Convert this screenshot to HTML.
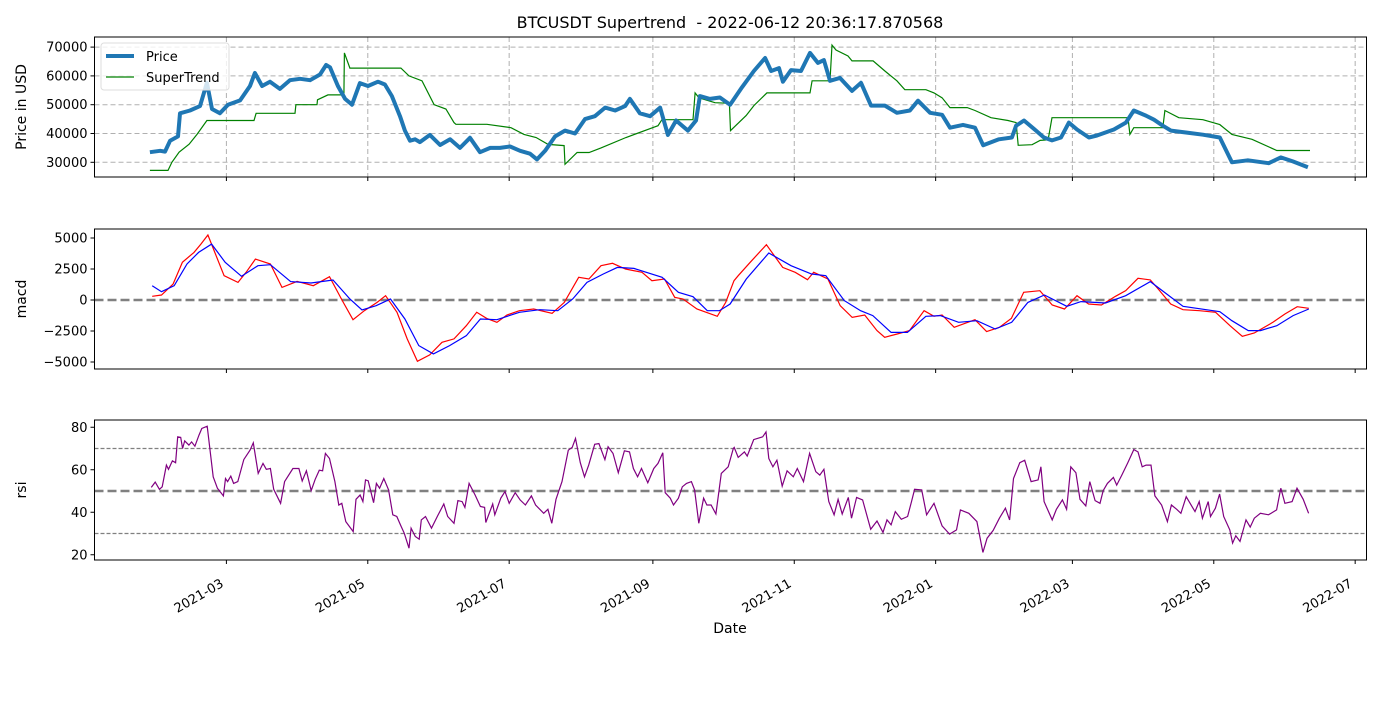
<!DOCTYPE html>
<html><head><meta charset="utf-8"><style>
body{margin:0;background:#fff}
svg text{font-family:"DejaVu Sans","Liberation Sans",sans-serif;fill:#000}
</style></head><body>
<svg id="chart" width="1400" height="700" viewBox="0 0 1400 700" xmlns="http://www.w3.org/2000/svg">
<rect width="1400" height="700" fill="#fff"/>
<text x="730" y="28" text-anchor="middle" font-size="16">BTCUSDT Supertrend &#160;- 2022-06-12 20:36:17.870568</text>
<g id="g-price"></g>
<g id="g-macd"></g>
<g id="g-rsi"></g>
<g id="g-x"></g>
<text x="730" y="633" text-anchor="middle" font-size="14">Date</text>
</svg>
<script>
// x tick data (days since 2021-03-01)
const xTickDays = [0, 61, 122, 184, 245, 306, 365, 426, 487];
const xTickLabels = ["2021-03","2021-05","2021-07","2021-09","2021-11","2022-01","2022-03","2022-05","2022-07"];
// price
const priceDays = [-33,-28.6,-26.5,-24.3,-20.9,-20,-15.7,-11.4,-9.2,-8.4,-6.2,-2.8,0.7,5.9,10.2,12.3,15.4,18.8,23.1,27.4,31.8,36.1,40.4,43,44.7,48.1,51.2,54.2,57.6,61.1,65.4,68.4,71.4,74.9,77,79.2,81.4,83.5,87.8,92.2,96.5,100.8,105.1,109.4,113.8,118,122.4,126.7,131,134,137.5,141.8,146.1,150.4,154.7,159,163.4,167.7,172,174.1,178.4,182.8,187.1,190.5,194,199.1,202.6,204.3,208.6,212.9,217.3,222.4,227.6,232.4,235,238.4,240.1,243.6,247.9,251.8,255.2,257.8,260.4,264.7,269.9,273.8,278.1,284.1,289.3,294.9,298.4,303.6,308.8,312.2,317.8,323,326.5,333.3,338.9,340.7,344.1,349.3,352.7,356.2,360.1,363.5,367,372.1,375.6,382.9,388.1,391.5,396.7,400.2,404,407.5,414.4,421.3,428.6,433.8,440.7,449.7,454.9,460.1,466.6];
const priceValues = [33500,34000,33700,37500,39000,47000,48000,49500,55500,57600,48500,47000,50000,51500,56500,61000,56500,58000,55500,58500,59000,58500,60500,63800,63000,56500,52000,50000,57500,56500,58000,57000,53000,46000,41000,37500,38000,37000,39500,36000,38000,35000,38500,33500,35000,35000,35500,34000,33000,31000,34000,39000,41000,40000,45000,46000,49000,48000,49500,52000,47000,46000,49000,39500,44500,41000,44500,53000,52000,52500,50000,56000,61700,66200,61700,62700,58000,62000,61700,68000,64500,65500,58300,59300,54800,57600,49700,49700,47200,48000,51400,47200,46500,42000,43000,42000,35900,38000,38600,42700,44500,41000,38600,37600,38600,43800,41400,38600,39300,41400,43800,48000,46200,44800,42700,41000,40300,39600,38600,30000,30700,29700,31700,30300,28300];
// supertrend
const stDays = [-33,-25.2,-23.5,-20.4,-16.1,-12.7,-8.4,11.9,12.8,29.6,30,39.1,39.3,43.8,50.7,50.9,53.3,75.3,78.8,84.4,89.6,94.7,98.2,99,112.4,122.8,128.4,133.6,138.8,145.7,146.1,151.3,156.5,161.6,172.4,186.2,187.9,201.3,202.2,203.9,210.8,217,217.5,224.2,227.6,233.2,251.8,252.7,260.4,261.3,263,268.2,269.9,279,284.1,289.3,292.7,301.8,305.3,308.8,312.2,319.6,323,329.9,337.2,340.7,341.6,347.6,351.1,354.5,356.2,389,389.8,391.5,404,404.9,410.9,421.3,428.6,433.8,442.5,453.2,467.5];
const stValues = [27200,27200,30000,33500,36300,39700,44500,44500,47000,47000,50000,50000,51700,53400,53400,68000,62700,62700,60000,58300,50000,48500,43800,43200,43200,42000,39700,38600,36200,35800,29300,33400,33400,35000,38600,42700,44800,44800,54100,52400,50700,50500,41000,46200,49700,54100,54100,58300,58300,70700,69000,66900,65200,65200,61700,58300,55200,55200,54100,52400,49000,49000,48000,45500,44500,43800,35900,36100,37600,37800,45500,45500,39700,42000,42000,48000,45500,44800,43100,39700,38000,34100,34100];
// macd
const macdDays = [-32,-28,-23,-19,-14,-11,-8,-5,-1,5,8.5,12.5,19,24,30.5,37.5,44.5,50,54.6,59.5,65,68.7,73.6,78,82.4,87.7,93,98.2,103.5,108,112.3,116.7,121,126.4,132.6,140.5,145.8,152,156.4,161.6,166.6,172.2,179.3,183.6,189,193.4,197,203,211.8,215.4,219,220.8,226,233,240,245.4,250.7,253.4,259.5,264.8,270,275.4,280.7,284,289.4,294.7,301,305.3,308.8,314,323,328,333.5,338.7,344,351,356.3,361.6,367,372,377.5,383.6,388,393.3,398.6,402,407.4,412.7,419.8,426.8,433,438.3,443.5,451.5,456.7,462,467];
const macdValues = [300,400,1290,3040,3840,4510,5240,3840,1960,1420,2230,3300,2900,1020,1500,1150,1880,-50,-1590,-860,-190,350,-990,-3140,-4940,-4430,-3410,-3140,-2070,-990,-1480,-1800,-1210,-860,-725,-1075,-190,1830,1690,2770,2960,2500,2230,1560,1690,215,80,-725,-1315,-190,1560,1960,3040,4460,2630,2230,1640,2230,1690,-460,-1400,-1210,-2470,-3010,-2740,-2470,-860,-1315,-1210,-2200,-1590,-2550,-2200,-1480,620,750,-400,-725,350,-320,-400,300,750,1750,1620,890,-320,-780,-860,-990,-2070,-2930,-2660,-1800,-1130,-540,-670];
const signalDays = [-32,-28,-22.5,-17,-12,-6.4,-0.5,6.5,13.6,19,27.7,36.5,46,53.3,58.5,64.6,70.8,77,83,89.3,96.3,103.5,109.6,116.7,126.4,135.2,143,149.4,155.6,162.6,168.7,175.8,188,195,201.3,207.5,212.7,217.3,224.3,234,243.6,252.5,258.6,266.6,273.6,278.9,286.8,293.8,301.8,308,315.9,323.8,331.7,338.8,345.8,352.9,362.6,368.7,379.3,388,398.6,405.7,412.7,428.6,433.8,440.9,446.1,453.2,460.2,467];
const signalValues = [1150,670,1150,2900,3840,4510,3040,1910,2770,2850,1480,1370,1610,80,-806,-460,80,-1530,-3680,-4350,-3680,-2880,-1530,-1590,-990,-780,-860,80,1420,2100,2630,2550,1830,620,270,-860,-860,-320,1690,3790,2770,2100,1960,-50,-860,-1260,-2610,-2610,-1315,-1260,-1800,-1670,-2340,-1800,-190,400,-510,-130,-240,350,1480,480,-510,-940,-1670,-2470,-2470,-2070,-1260,-725];
// rsi
const rsiDays = [-32.4,-30.7,-28.9,-27.7,-25.9,-25,-23.3,-21.9,-21,-19.7,-18.9,-18,-16.2,-15,-13.6,-11.8,-10.6,-8.3,-5.7,-3.9,-1.3,-0.4,0.5,1.9,3.1,4.9,7.5,10.2,11.6,13.7,15.8,17.2,19,20.4,23.4,25.1,28.7,31.3,32.7,34.5,36.6,38.3,40.1,41.5,42.7,44.5,46.8,48.5,49.8,51.5,54.7,55.9,57.7,58.9,60,61.2,63.5,64.7,66.1,67.9,70,71.8,73.5,75.3,76.7,78.8,79.7,81.5,83.2,84.1,85.9,88.5,91.1,93.8,95.5,98.2,99.9,101.7,102.9,104.7,107.3,109.6,111.4,111.9,114.9,115.8,118.4,120.2,122,124.6,126.7,129,131.6,133.4,136.9,138.7,140.4,142.2,144.8,147.5,149.2,150.6,152.7,154.5,156.3,158.9,160.7,163.3,164.7,166.8,169.1,171.7,173.9,175.6,177.4,179.1,181.8,184.4,186.2,188.3,189.3,191.5,192.9,195,196.7,198.5,200.6,202,203.8,205.9,207.3,209.1,211.2,213.5,216.5,218.7,219.1,220.8,223.5,224.7,227.5,231.4,232.8,234,235.8,237.5,239.8,241.9,244.6,246.3,249,251.6,254.3,256,257.8,259.9,262.2,263.9,265.7,268.3,269.7,271.9,274.5,278,280.7,283.3,285,286.8,288.6,291.2,293.9,295.6,296.9,300,302.1,305.3,308.8,312,315,316.7,320.3,323.8,326.4,328.2,330.8,333.5,336.1,337.9,339.6,342.3,344.4,347.2,350.2,351.4,352.8,356.3,358.1,360.7,362.5,364.3,366.5,368.3,370.8,372.5,374.8,376.9,378.3,380.1,382.7,384.1,386.3,388.9,391.5,393.3,395.1,396.8,398.9,400.6,403.5,406,407.7,410,411.8,414.1,417.9,419.7,421.1,423.6,424.6,426.7,428.5,430.3,432.9,434.1,435.5,437.3,439.9,441.7,443.5,446.1,449.6,453.1,454.9,456.7,459.8,461.9,464.6,466.9];
const rsiValues = [51.7,54.2,50.8,52,62.2,60.2,64.2,63.3,75.5,75.2,70,73.6,71.6,73.1,71.1,76.3,79.4,80.5,56.7,51.3,47.7,55.9,54.4,57,53.6,54.4,64.8,69.2,72.7,58.3,63,60.2,60.6,50.8,44.2,54.4,60.6,60.6,54.7,59.5,50.2,55.5,59.8,59.5,67.7,65.3,54.4,43.4,44.2,35.6,30.9,46.1,48.1,45,55.2,54.8,44.5,53.6,51.3,55.9,50.5,38.8,38,33.6,30.2,23.1,32.5,28.6,27.3,36.4,38,32.5,38.3,43.9,38,34.8,45.5,45,42.3,53.6,48.1,42.7,42.3,35.2,43.9,38.8,46.6,49.7,44.2,49.2,45.8,43.4,47.7,43.4,39.5,41.4,34.8,46.1,54.4,69.2,70.5,74.7,63.3,56.7,62.2,72,72.3,64.8,70.8,67.7,58.6,68.9,68.4,60.6,56.7,60.6,53.9,60.6,63,68,49.2,46.6,43.4,46.6,52,53.6,54.4,50.5,34.8,46.6,43.4,43.4,39.2,58.3,61.4,70,70.5,65.8,68.4,66.4,74.2,75.5,77.8,65.3,61.4,64.5,52.3,59.5,56.7,60.6,54.4,67.7,59.1,57.5,60.2,45,38.8,46.1,39.2,47,37.2,47,45.8,32,35.9,30.5,36.4,34.1,40.3,36.7,38,45,50.8,50.5,38.8,44.2,33.6,29.7,31.7,41.1,39.5,35.6,21.1,27.8,31.4,37.2,41.9,36.4,55.9,63.3,64.5,54.4,55.2,61.4,45,36.4,41.4,45.8,41.4,61.4,58.6,46.1,43,54.4,45.5,44.2,50.2,53.6,56.4,52.8,57.5,63.3,69.5,68.4,61.4,62.2,62.2,47.7,43.4,35.6,43.4,41.4,39.5,47.3,40.3,45,37.2,45,38,41.9,48.6,38,31.7,25.5,28.9,26.3,36.4,33,37.2,39.5,38.8,41.1,51.3,44.2,45,51.3,46.1,39.5];
const priceTicks = [30000,40000,50000,60000,70000];
const macdTicks = [-5000,-2500,0,2500,5000];
const rsiTicks = [20,40,60,80];

const NS = "http://www.w3.org/2000/svg";
const X0 = 94.5, X1 = 1366.5;
const xs = d => 226.4 + d * 2.3178;
const yPrice = v => 162.3 - (v - 30000) * 0.00288;
const yMacd = v => 300 - v * 0.0124;
const yRsi = v => 491 - (v - 50) * 2.125;
const panels = [{id:"g-price", top:37, bot:177}, {id:"g-macd", top:229, bot:369}, {id:"g-rsi", top:420, bot:560}];

function mk(tag, attrs, parent) {
  const e = document.createElementNS(NS, tag);
  for (const k in attrs) e.setAttribute(k, attrs[k]);
  parent.appendChild(e);
  return e;
}
function pathFrom(days, vals, ys) {
  return days.map((d, i) => (i ? "L" : "M") + xs(d).toFixed(1) + " " + ys(vals[i]).toFixed(1)).join(" ");
}
const gP = document.getElementById("g-price");
const gM = document.getElementById("g-macd");
const gR = document.getElementById("g-rsi");

xTickDays.forEach(d => {
  const l = mk("line", {x1: xs(d), x2: xs(d), y1: 37, y2: 177, stroke: "#b0b0b0", "stroke-dasharray": "5,3", "stroke-width": 1}, gP);
  
  
});
priceTicks.forEach(v => {
  const l = mk("line", {x1: X0, x2: X1, y1: yPrice(v), y2: yPrice(v), stroke: "#b0b0b0", "stroke-dasharray": "5,3", "stroke-width": 1}, gP);
  
  
});
const z = mk("line", {x1: X0, x2: X1, y1: yMacd(0), y2: yMacd(0), stroke: "#808080", "stroke-width": 2.5, "stroke-dasharray": "9,4"}, gM);


[30, 70].forEach(v => {
  const l = mk("line", {x1: X0, x2: X1, y1: yRsi(v), y2: yRsi(v), stroke: "#808080", "stroke-width": 1.2, "stroke-dasharray": "4,2"}, gR);
  
  
});
const m50 = mk("line", {x1: X0, x2: X1, y1: yRsi(50), y2: yRsi(50), stroke: "#808080", "stroke-width": 2.5, "stroke-dasharray": "9,4"}, gR);



let p = mk("path", {d: pathFrom(stDays, stValues, yPrice), fill: "none", stroke: "#008000", "stroke-width": 1.2}, gP);


p = mk("path", {d: pathFrom(priceDays, priceValues, yPrice), fill: "none", stroke: "#1f77b4", "stroke-width": 4, "stroke-linejoin": "round"}, gP);


p = mk("path", {d: pathFrom(macdDays, macdValues, yMacd), fill: "none", stroke: "#ff0000", "stroke-width": 1.2}, gM);


p = mk("path", {d: pathFrom(signalDays, signalValues, yMacd), fill: "none", stroke: "#0000ff", "stroke-width": 1.2}, gM);


p = mk("path", {d: pathFrom(rsiDays, rsiValues, yRsi), fill: "none", stroke: "#800080", "stroke-width": 1.2}, gR);



panels.forEach(pn => {
  const g = document.getElementById(pn.id);
  const r = mk("rect", {x: X0, y: pn.top, width: X1 - X0, height: pn.bot - pn.top, fill: "none", stroke: "#000", "stroke-width": 1}, g);
  
  
  xTickDays.forEach(d => {
    const t = mk("line", {x1: xs(d), x2: xs(d), y1: pn.bot, y2: pn.bot + 4, stroke: "#000"}, g);
    
    
  });
});
function yTicks(g, ticks, ys, fmt) {
  ticks.forEach(v => {
    const t = mk("line", {x1: X0 - 4, x2: X0, y1: ys(v), y2: ys(v), stroke: "#000"}, g);
    
    
    const tx = mk("text", {x: X0 - 7, y: ys(v) + 4.5, "text-anchor": "end", "font-size": 13}, g);
    tx.textContent = fmt(v);
    
    
  });
}
const fm = v => (v < 0 ? "\u2212" + Math.abs(v) : String(v));
yTicks(gP, priceTicks, yPrice, fm);
yTicks(gM, macdTicks, yMacd, fm);
yTicks(gR, rsiTicks, yRsi, fm);
[["Price in USD", 107, "price-y-axis-title"], ["macd", 299, "macd-y-axis-title"], ["rsi", 490, "rsi-y-axis-title"]].forEach(a => {
  const t = mk("text", {x: 0, y: 0, transform: "translate(26," + a[1] + ") rotate(-90)", "text-anchor": "middle", "font-size": 14}, gP);
  t.textContent = a[0];
  
  
});
const gX = document.getElementById("g-x");
xTickDays.forEach((d, i) => {
  const t = mk("text", {x: 0, y: 0, transform: "translate(" + (xs(d) - 2) + ",586) rotate(-30)", "text-anchor": "end", "font-size": 13}, gX);
  t.textContent = xTickLabels[i];
  
  
});
const lg = mk("g", {}, gP);


const lb = mk("rect", {x: 101, y: 43, width: 128, height: 47, rx: 3, fill: "#fff", "fill-opacity": 0.8, stroke: "#ddd"}, lg);


const l1 = mk("line", {x1: 106, x2: 134, y1: 56, y2: 56, stroke: "#1f77b4", "stroke-width": 4}, lg);


const t1 = mk("text", {x: 146, y: 61, "font-size": 13}, lg);
t1.textContent = "Price";


const l2 = mk("line", {x1: 106, x2: 134, y1: 77, y2: 77, stroke: "#008000", "stroke-width": 1.2}, lg);


const t2 = mk("text", {x: 146, y: 82, "font-size": 13}, lg);
t2.textContent = "SuperTrend";


</script>
</body></html>
